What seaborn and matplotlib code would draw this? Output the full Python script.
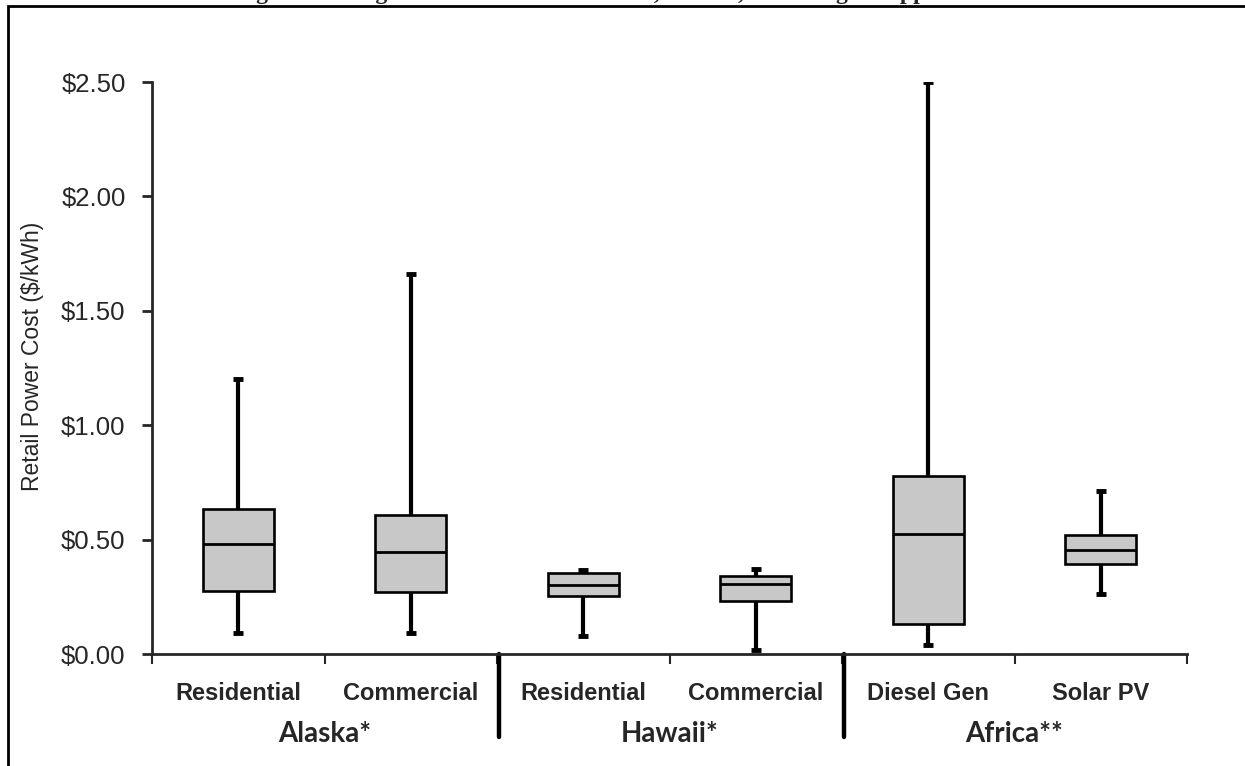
import numpy as np
import pandas as pd
import matplotlib
matplotlib.use("Agg")
import matplotlib.pyplot as plt
import matplotlib.transforms as mtransforms
from matplotlib.patches import Rectangle
from matplotlib.ticker import FuncFormatter
import seaborn as sns

# box statistics ($/kWh)
keys = ["AK Res", "AK Com", "HI Res", "HI Com", "AF Diesel", "AF Solar"]
tick_labels = ["Residential", "Commercial", "Residential", "Commercial", "Diesel Gen", "Solar PV"]
groups = ["Alaska*", "Hawaii*", "Africa**"]
mins = [0.09, 0.09, 0.08, 0.017, 0.04, 0.262]
q1s = [0.275, 0.27, 0.254, 0.232, 0.131, 0.393]
medians = [0.48, 0.446, 0.30, 0.305, 0.524, 0.455]
q3s = [0.634, 0.607, 0.354, 0.34, 0.778, 0.52]
maxes = [1.20, 1.66, 0.367, 0.37, 2.50, 0.712]

title = "Figure 6: Range of Power Costs in Alaska, Hawaii, and Off-grid Applications"

W, H = 1245, 766


def build_frame():
    """Five points per box so the quartiles land exactly on the read values."""
    rows = []
    for i, k in enumerate(keys):
        for v in (mins[i], q1s[i], medians[i], q3s[i], maxes[i]):
            rows.append({"key": k, "cost": v})
    return pd.DataFrame(rows)


def main():
    sns.set_style("ticks")
    plt.rcParams["font.family"] = ["Liberation Sans", "DejaVu Sans"]

    df = build_frame()
    fig = plt.figure(figsize=(W / 100, H / 100), dpi=100)
    ax = fig.add_axes([152 / W, 1 - 654 / H, 1035 / W, 572 / H])

    sns.boxplot(data=df, x="key", y="cost", order=keys, whis=(0, 100),
                width=0.41, color="#c8c8c8", saturation=1, linecolor="black",
                linewidth=1.9, showcaps=False,
                whiskerprops={"linewidth": 3},
                medianprops={"linewidth": 2},
                ax=ax)

    # short thick caps
    xs = np.arange(len(keys))
    ax.hlines(maxes, xs - 0.03, xs + 0.03, color="black", lw=3.5, zorder=3)
    ax.hlines(mins, xs - 0.03, xs + 0.03, color="black", lw=3.5, zorder=3)

    ax.set_ylim(0, 2.5)
    ax.set_xlim(-0.5, len(keys) - 0.5)
    ax.set_yticks(np.arange(0, 2.51, 0.5))
    ax.yaxis.set_major_formatter(FuncFormatter(lambda v, p: f"${v:.2f}"))
    ax.tick_params(axis="y", labelsize=18.5, length=7, width=2, direction="out", pad=12)

    # ticks at category boundaries, labels in between
    ax.set_xticks(np.arange(-0.5, len(keys), 1.0))
    ax.set_xticklabels([])
    ax.tick_params(axis="x", which="major", length=7, width=1.5, direction="out")
    ax.set_xlabel("")

    ax.set_ylabel("Retail Power Cost ($/kWh)", fontsize=16.5)
    ax.yaxis.set_label_coords(-0.104, 0.52)

    for side in ("top", "right"):
        ax.spines[side].set_visible(False)
    for side in ("left", "bottom"):
        ax.spines[side].set_linewidth(2)

    # category names, group separators and group names
    trans = mtransforms.blended_transform_factory(ax.transData, ax.transAxes)
    for x, lab in zip(xs, tick_labels):
        ax.text(x, -(700 - 654) / 572, lab, transform=trans, ha="center",
                va="baseline", fontsize=17, fontweight="bold")
    for xb in (1.5, 3.5):
        ax.plot([xb + 0.01, xb + 0.01], [0, -(737 - 654) / 572], color="black",
                lw=3.2, transform=trans, clip_on=False)
    for i, g in enumerate(groups):
        ax.text(2 * i + 0.5, -(742 - 654) / 572, g, transform=trans, ha="center",
                va="baseline", fontsize=20, fontweight="bold",
                family=["Lato", "DejaVu Sans"])

    # title cut off at the very top, only descenders show, and the outer frame
    fig.text(0.5, 1 + 1 / H, title, ha="center", va="baseline", fontsize=17,
             fontweight="bold", family=["Liberation Serif", "DejaVu Serif"])
    fig.add_artist(Rectangle((8 / W, -0.05), 1.2, 1.05 - 6 / H,
                             transform=fig.transFigure, fill=False,
                             ec="black", lw=2))

    fig.savefig("out.png", dpi=100)


if __name__ == "__main__":
    main()
